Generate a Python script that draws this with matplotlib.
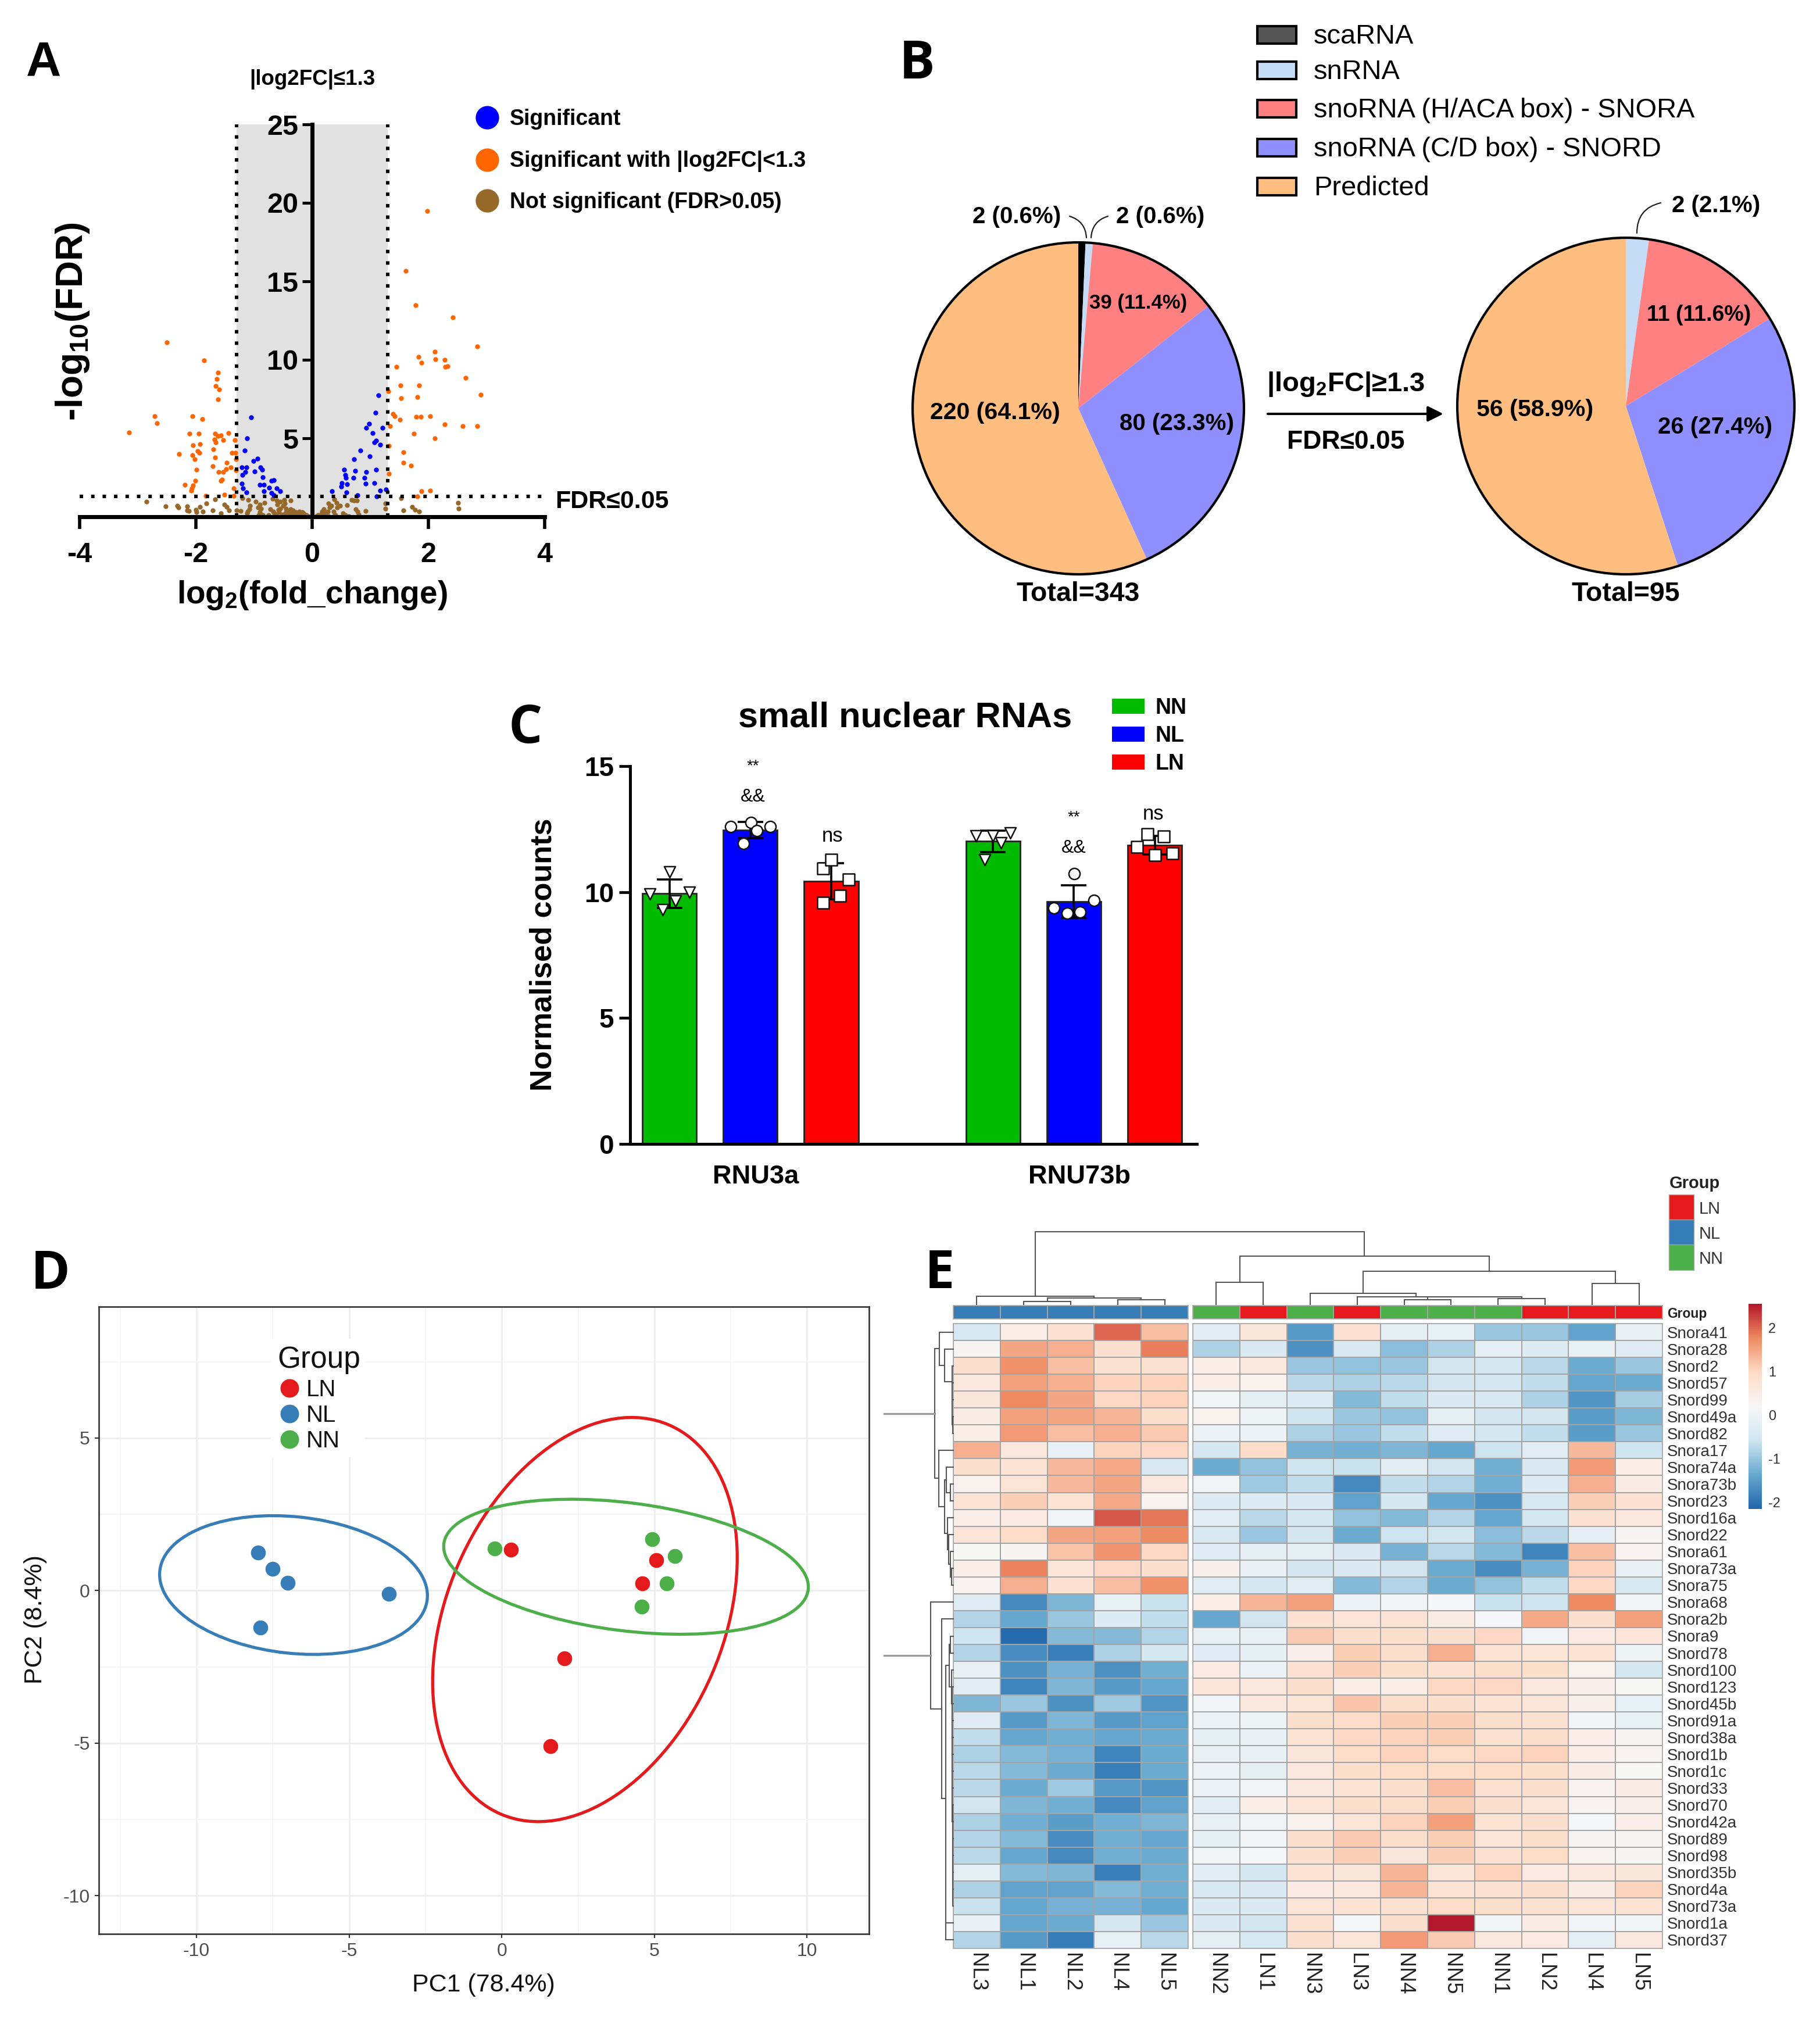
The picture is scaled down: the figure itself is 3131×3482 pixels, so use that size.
import numpy as np
import matplotlib
matplotlib.use("Agg")
import matplotlib.pyplot as plt
from matplotlib.patches import Rectangle, Ellipse, Circle
from matplotlib.colors import LinearSegmentedColormap, ListedColormap, Normalize
from matplotlib.cm import ScalarMappable

plt.rcParams['font.family'] = ['Liberation Sans', 'DejaVu Sans']
plt.rcParams['mathtext.default'] = 'regular'
plt.rcParams['axes.unicode_minus'] = False

W, H = 3131, 3482

# ---------- A: volcano (log2FC, -log10 FDR)
orange_x = [-1.86,-1.62,-1.64,-1.66,-1.60,-1.62,-2.06,-1.89,-2.11,-1.95,-1.67,-1.44,-1.57,-1.62,-1.68,-1.53,-1.33,-1.66,-1.93,-2.05,-1.70,-1.97,-1.94,-2.06,-2.29,-1.38,-1.32,-2.02,-1.67,-1.31,-1.47,-1.71,-1.40,-1.99,-1.48,-1.31,-1.61,-1.53,-1.55,-1.57,-2.01,-2.19,-2.05,-2.07,-1.35,-2.08,-1.83,-1.51,-1.35,-3.15,-2.71,-2.67,-2.50,
            1.98,1.61,1.78,2.42,2.84,2.11,1.83,1.88,2.12,2.28,2.29,2.33,1.45,1.52,1.84,2.64,1.31,1.53,1.81,2.90,1.39,1.42,1.51,1.79,1.87,2.03,2.28,2.59,2.84,1.34,1.75,2.11,1.32,1.57,1.57,1.70,1.32,1.88,2.03,1.81]
orange_y = [9.95,9.19,8.78,8.35,8.10,7.50,6.42,6.22,5.31,5.31,5.31,5.33,5.19,5.14,4.94,4.88,4.90,4.73,4.64,4.57,4.30,4.17,4.07,3.93,4.01,4.07,4.07,3.68,3.78,3.68,3.46,3.21,3.16,3.00,3.04,2.96,2.85,2.85,2.38,2.28,2.30,2.05,2.01,1.80,1.80,1.68,1.33,1.40,1.33,5.37,6.40,5.96,11.10,
            19.50,15.67,13.50,12.70,10.85,10.53,10.17,9.83,10.05,10.00,9.54,9.60,9.57,8.38,8.38,8.85,7.99,7.54,7.64,7.77,6.57,6.42,6.19,6.38,6.38,6.42,5.88,5.77,5.77,5.78,5.30,5.01,4.52,4.11,3.46,3.27,2.75,1.62,1.65,1.30]
blue_x = [-1.05,-1.12,-1.16,-.94,-1.01,-1.21,-1.13,-.89,-.86,-.99,-1.15,-1.20,-.85,-.70,-.66,-1.21,-.90,-.83,-.61,-.74,-1.19,-.83,-1.13,-.55,-.70,-.66,
          1.14,1.09,.98,.93,1.21,1.04,1.10,1.07,1.17,.83,.99,.72,.55,.74,1.10,.93,.57,.58,.71,.90,1.07,.51,.60,.92,.50,1.17,1.27,.34,.59,.78,1.11]
blue_y = [6.33,5.01,4.22,3.70,3.56,3.16,3.16,3.16,3.00,2.89,2.84,2.67,2.52,2.30,2.32,2.10,2.04,2.04,1.83,1.85,1.83,1.63,1.56,1.63,1.53,1.38,
          7.75,6.63,5.94,5.68,5.68,5.33,4.85,4.73,4.60,4.23,3.86,3.65,2.99,2.94,2.99,2.84,2.67,2.47,2.49,2.47,2.14,2.14,2.07,2.10,1.93,1.68,1.75,1.64,1.54,1.36,1.28]
brown_x = [-2.32,-2.15,-2.15,-2.12,-1.99,-1.93,-1.88,-1.82,-1.67,-1.71,-1.57,-1.51,-1.47,-1.43,-1.30,-1.23,-1.20,-1.10,-1.07,-1.11,-.97,-.90,-.82,-.88,-.92,-.85,-.68,-.61,-.55,-.48,-.50,-.37,-.45,-.72,-.65,-.57,-.40,-.33,-.25,-.17,-.13,-.30,-.50,-.43,-.07,-.20,
           0,.07,.13,.20,.18,.28,.38,.33,.42,.48,.27,.37,.37,.57,.63,.60,.68,.77,.75,.80,.92,1.26,1.26,1.53,1.57,1.72,1.77,1.84,2.51,2.52,-2.85,-2.52,-2.30,-2.00,
           -.67,-.62,-.55,-.52,-.47,-.45,-.40,-.37,-.32,-.27,-.22,-.15,-.10,-.60,-1.08,-1.12,-.90,-.93,.30,.23,.28,.10,.17,.43,.40,.53,.78,.72,-.75,-.58,-.35,-.28]
brown_y = [.69,.65,.40,.37,.28,.62,.35,.84,1.11,.41,.22,.78,.62,.41,.41,.37,1.19,1.09,.72,.35,.96,.78,.90,.53,.12,.12,1.15,1.02,.96,1.09,.72,1.02,.53,.49,.22,.28,.35,.41,.22,.28,.12,.16,.16,.22,.04,.10,
           0,.04,.10,.47,.22,.84,1.11,.72,.90,.72,.35,.35,.04,.10,.04,.74,1.09,1.02,.47,.16,.37,.84,.53,1.19,.41,.62,.44,.35,.88,.53,.95,.65,.58,.45,
           .35,.10,.53,.10,.84,.28,.10,.47,.35,.10,.35,.22,.10,.78,.47,.22,.28,.59,.59,.22,.04,.10,.35,.59,.10,.22,.35,1.02,.12,.45,.18,.30]
legend_A = ['Significant', 'Significant with |log2FC|<1.3', 'Not significant (FDR>0.05)']

# ---------- B: pies
pie_names = ['scaRNA', 'snRNA', 'snoRNA (H/ACA box) - SNORA', 'snoRNA (C/D box) - SNORD', 'Predicted']
pie_cols = ['#000000', '#c6dcf6', '#ff8080', '#8f8fff', '#ffbd80']
pie_leg_cols = ['#555555', '#c6dcf6', '#ff8080', '#8f8fff', '#ffbd80']
pie1_share = [0.7, 0.7, 13.0, 28.8, 56.8]   # slice shares as drawn
pie2_share = [0.0, 2.2, 14.1, 28.7, 55.0]

# ---------- C: bars
genes = ['RNU3a', 'RNU73b']
bar_groups = ['NN', 'NL', 'LN']
bar_cols = ['#00bb00', '#0000ff', '#ff0000']
bar_pos = [0, 1, 2, 4, 5, 6]
nn_a = [9.93, 10.8, 9.3, 9.65, 10.0]
nl_a = [12.6, 12.77, 11.93, 12.45, 12.6]
ln_a = [10.95, 11.29, 10.49, 9.86, 9.58]
nn_b = [12.24, 12.24, 12.34, 11.96, 11.29]
nl_b = [9.37, 10.73, 9.16, 9.2, 9.68]
ln_b = [11.79, 12.31, 12.2, 11.47, 11.55]
off_a = [-.245, .006, -.084, .078, .245]
off_ln_a = [-.1, 0, .215, .107, -.1]
off_nn_b = [-.21, 0, .21, .10, -.10]
off_ln_b = [-.22, -.09, .11, 0, .215]

# ---------- D: PCA
pc_groups = ['LN', 'NL', 'NN']
pc_cols = ['#e41a1c', '#377eb8', '#4daf4a']
ln_pc1 = [.30, 5.07, 4.60, 2.05, 1.60]
ln_pc2 = [1.34, 1.00, .23, -2.22, -5.10]
nl_pc1 = [-7.98, -7.51, -7.02, -3.69, -7.91]
nl_pc2 = [1.25, .71, .26, -.11, -1.21]
nn_pc1 = [-.23, 4.93, 5.67, 5.40, 4.58]
nn_pc2 = [1.38, 1.68, 1.12, .24, -.52]

# ---------- E: heatmap
left_cols = ['NL3', 'NL1', 'NL2', 'NL4', 'NL5']
right_cols = ['NN2', 'LN1', 'NN3', 'LN3', 'NN4', 'NN5', 'NN1', 'LN2', 'LN4', 'LN5']
row_names = ['Snora41','Snora28','Snord2','Snord57','Snord99','Snord49a','Snord82','Snora17','Snora74a','Snora73b','Snord23','Snord16a','Snord22','Snora61','Snora73a','Snora75','Snora68','Snora2b','Snora9','Snord78','Snord100','Snord123','Snord45b','Snord91a','Snord38a','Snord1b','Snord1c','Snord33','Snord70','Snord42a','Snord89','Snord98','Snord35b','Snord4a','Snord73a','Snord1a','Snord37']
heat = np.array([
[-.45,.45,.8,2.0,1.25,-.25,.65,-1.55,.8,-.2,-.15,-1.0,-1.0,-1.45,-.1],
[.25,1.5,1.4,.85,1.85,-.85,-.4,-1.65,-.45,-1.1,-.85,-.2,-.35,-.1,-.3],
[.85,1.7,1.25,.8,.8,.45,.6,-1.0,-1.05,-1.0,-.55,-.5,-.75,-1.35,-1.0],
[.6,1.55,1.4,1.05,1.05,.45,.35,-.75,-.85,-.75,-.55,-.5,-.7,-1.4,-1.35],
[.65,1.75,1.5,1.0,1.05,.1,-.2,-.35,-1.15,-.7,-.4,-.45,-.85,-1.6,-.9],
[.5,1.55,1.5,1.35,.9,.35,0,-.6,-1.0,-1.05,-.2,-.55,-.55,-1.5,-1.2],
[.45,1.6,1.25,1.4,1.15,-.05,-.05,-.85,-1.0,-.7,-.3,-.5,-.7,-1.5,-1.0],
[1.4,.6,-.15,1.05,1.0,-.5,.95,-1.25,-1.3,-1.2,-1.4,-.6,-.25,1.3,-.6],
[.85,.75,1.3,1.45,-.45,-1.35,-1.05,-.6,-.65,-.25,-.55,-1.3,-.4,1.6,.45],
[.35,.7,1.3,1.5,.6,.05,-.95,-.7,-1.75,-.7,-.8,-1.3,-.35,1.4,.5],
[.75,1.1,.75,1.45,.3,-.35,-.35,-.4,-1.45,-.5,-1.4,-1.65,-.45,1.1,.8],
[.45,.55,.05,2.1,1.9,-.25,-.75,-.5,-1.05,-1.15,-.8,-1.4,-.5,.8,.6],
[.7,.95,1.5,1.55,1.75,-.45,-1.0,-.55,-1.35,-.6,-.55,-1.1,-.75,-.2,.25],
[.2,.25,1.2,1.65,1.0,-.3,-.2,-.2,-.4,-1.25,-.75,-1.15,-1.8,1.25,.3],
[.45,1.8,.7,1.0,.85,.4,-.1,-.55,-.4,-.55,-1.35,-1.7,-1.25,1.05,-.1],
[.3,1.4,.8,1.25,1.7,-.25,-.5,-.25,-1.15,-.8,-1.35,-1.05,-.7,1.0,-.45],
[-.3,-1.75,-1.2,-.15,-.65,.45,1.35,1.55,-.05,.05,.15,-.65,-.6,1.75,.1],
[-.8,-1.4,-1.0,-.35,-.7,-1.4,-.55,.8,.7,.75,.5,.15,1.45,.85,1.55],
[-.6,-2.1,-1.15,-1.15,-.8,-.1,-.1,1.15,.9,.9,.85,1.0,.05,.55,.7],
[-.8,-1.7,-1.85,-.85,-.5,-.3,-.2,.4,1.1,.9,1.4,.75,.7,.75,0],
[-.1,-1.65,-1.25,-1.65,-1.3,.55,-.05,.8,1.1,.9,.8,.9,.9,.35,-.5],
[-.25,-1.8,-1.2,-1.55,-1.4,.7,.6,.85,.45,.45,1.0,1.0,.6,.4,.2],
[-1.2,-1.0,-1.65,-.95,-1.6,.05,.6,.7,1.2,.9,.85,.75,.7,.4,-.15],
[-.3,-1.55,-1.2,-1.55,-1.45,-.05,0,.9,.95,1.1,1.1,.9,.8,.1,-.1],
[-.7,-1.4,-1.3,-1.4,-1.35,-.2,-.1,.75,1.0,1.05,1.1,.8,.9,.45,.25],
[-.85,-1.15,-1.25,-1.8,-1.35,-.1,-.1,.65,.95,1.05,.95,1.0,1.05,.45,.3],
[-.75,-1.15,-1.35,-1.85,-1.35,-.05,-.2,.6,.9,.95,.95,.95,.9,.5,.2],
[-.75,-1.35,-.95,-1.55,-1.6,-.05,.05,.6,.75,.85,1.25,.8,.85,.3,.5],
[-.55,-1.2,-1.3,-1.75,-1.45,-.25,.45,.7,.9,.9,1.1,.85,.7,.3,.4],
[-.85,-1.3,-1.5,-1.3,-1.2,-.1,.05,.35,.7,1.05,1.55,.75,.85,.15,.45],
[-.8,-1.15,-1.7,-1.3,-1.4,-.2,.1,.85,1.15,.9,1.1,.7,.9,.25,.25],
[-.75,-1.4,-1.75,-1.3,-1.35,.1,.15,.85,1.1,.65,1.1,.8,.95,.3,.25],
[-.2,-1.15,-1.2,-1.85,-1.3,-.25,-.5,.75,.65,1.35,.7,1.05,.55,.6,.65],
[-.85,-1.45,-1.45,-1.15,-1.3,-.45,-.4,.55,.6,1.35,.75,.8,.85,.5,1.05],
[-.65,-1.4,-1.25,-1.25,-1.4,-.4,-.4,.7,.75,.8,.95,.9,.8,.7,.75],
[-.1,-1.4,-1.35,-.5,-1.0,-.4,-.55,.8,.15,.85,2.55,.1,.5,.1,.1],
[-.8,-1.55,-1.9,-.15,-.75,-.2,-.45,.85,.7,1.6,1.15,.6,.55,-.2,.6],
])
rdbu7 = ['#2166AC', '#67A9CF', '#D1E5F0', '#F7F7F7', '#FDDBC7', '#EF8A62', '#B2182B']
heat_min, heat_max = -2.16, 2.55

# dendrograms as nested (child, child, merge height); leaves are indices
col_tree_left = (0, ((1, 2, 2239.3), (3, 4, 2236), 2233.3), 2230)
col_tree_right = ((0, 1, 2206),
                  ((2, (3, ((4, 5, 2236), (6, 7, 2233.7), 2231), 2230.6), 2224.5), (8, 9, 2208), 2187),
                  2161)
chain = (33, 34, 1639)
for leaf, h in zip(range(32, 19, -1), [1639, 1638.8, 1638.6, 1638.8, 1638.6, 1638.4, 1638.2, 1638, 1638.2, 1638, 1637.8, 1637.6, 1637.4]):
    chain = (leaf, chain, h)
row_tree_top = ((0, (1, (2, (3, (4, (5, 6, 1638.5), 1638.3), 1638), 1637.5), 1625), 1616),
                (7, ((8, (9, 10, 1635), 1628), (11, (12, (13, (14, 15, 1637), 1635), 1632), 1630), 1625), 1615),
                1608)
row_tree_bottom = (16, (17, (((18, 19, 1635), chain, 1633), (35, 36, 1627), 1627), 1620), 1601)


def ax_px(x0, y0, x1, y1, **kw):
    return fig.add_axes([x0 / W, 1 - y1 / H, (x1 - x0) / W, (y1 - y0) / H], **kw)


fig = plt.figure(figsize=(W / 100, H / 100), dpi=100, facecolor='white')
ov = fig.add_axes([0, 0, 1, 1], zorder=20)
ov.set_xlim(0, W); ov.set_ylim(H, 0); ov.axis('off')


def T(x, y, s, size, weight='normal', ha='center', va='center', color='black', rot=0, **kw):
    if rot == 0:
        y = y + 3
    return ov.text(x, y, s, fontsize=size, fontweight=weight, ha=ha, va=va, color=color,
                   rotation=rot, rotation_mode='anchor' if rot == 270 else 'default', **kw)


# ================= Panel A
a = ax_px(137, 214, 937, 889)
a.set_xlim(-4, 4); a.set_ylim(0, 25)
a.patch.set_alpha(0)
a.add_patch(Rectangle((-1.3, 0), 2.6, 25, color='#e1e1e1', lw=0, zorder=0))
msize = 36
a.scatter(brown_x, brown_y, s=msize, c='#96692a', lw=0, zorder=2, clip_on=False)
a.scatter(orange_x, orange_y, s=msize, c='#ff6600', lw=0, zorder=2, clip_on=False)
a.scatter(blue_x, blue_y, s=msize, c='#0000ff', lw=0, zorder=2, clip_on=False)
dots = dict(color='black', lw=4.3, ls=(0, (1, 2.3)), zorder=3, clip_on=False, dash_capstyle='butt')
a.plot([-4, 4], [1.3, 1.3], **dots)
a.plot([-1.3, -1.3], [0, 25], **dots)
a.plot([1.3, 1.3], [0, 25], **dots)
for s in ['top', 'right']:
    a.spines[s].set_visible(False)
a.spines['left'].set_position(('data', 0))
a.spines['left'].set_linewidth(5); a.spines['bottom'].set_linewidth(5)
a.spines['left'].set_zorder(4); a.spines['bottom'].set_zorder(4)
a.set_xticks([-4, -2, 0, 2, 4]); a.set_yticks([5, 10, 15, 20, 25])
a.tick_params(axis='x', length=15, width=4, pad=16, labelsize=35)
a.tick_params(axis='y', length=12, width=3.6, pad=5, labelsize=35)
for l in a.get_xticklabels() + a.get_yticklabels():
    l.set_fontweight('bold')
a.set_xticklabels(['-4', '-2', '0', '2', '4'], fontweight='bold')
T(537, 1021, 'log$_2$(fold_change)', 39.6, 'bold')
T(125, 553, '-log$_{10}$(FDR)', 46, 'bold', rot=90)
T(537, 133, '|log2FC|≤1.3', 26.5, 'bold')
T(955, 860, 'FDR≤0.05', 31, 'bold', ha='left')
for y, c, s in zip([202, 275, 345], ['#0000ff', '#ff6600', '#96692a'], legend_A):
    ov.scatter([838], [y], s=840, c=c, lw=0)
    T(877, y, s, 27, 'bold', ha='left')

# ================= Panel B
for box, share in [((1570, 417, 2140, 988), pie1_share), ((2507, 409, 3087, 988), pie2_share)]:
    p = ax_px(*box)
    p.pie(share, colors=pie_cols, startangle=90, counterclock=False, radius=1,
          wedgeprops=dict(lw=0))
    p.set_xlim(-1, 1); p.set_ylim(-1, 1); p.set_aspect('auto')
    p.add_patch(Circle((0, 0), 1, fill=False, ec='black', lw=3, clip_on=False, zorder=5))
for y, c, s in zip([60, 121, 187, 254, 321], pie_leg_cols, pie_names):
    ov.add_patch(Rectangle((2163, y - 15), 67, 30, fc=c, ec='black', lw=3))
    T(2260, y, s, 33.8, ha='left')
for (x, y, s, fs) in [(1749, 370, '2 (0.6%)', 29), (1996, 370, '2 (0.6%)', 29), (1958, 518, '39 (11.4%)', 25),
                      (1712, 707, '220 (64.1%)', 29.6), (2024, 726, '80 (23.3%)', 29),
                      (2952, 351, '2 (2.1%)', 29), (2923, 539, '11 (11.6%)', 27),
                      (2641, 702, '56 (58.9%)', 29.6), (2951, 732, '26 (27.4%)', 29),
                      (1855, 1019, 'Total=343', 33.5), (2797, 1019, 'Total=95', 33.5),
                      (2315, 658, '|log$_2$FC|≥1.3', 34), (2315, 758, 'FDR≤0.05', 32)]:
    T(x, y, s, fs, 'bold')
ov.annotate('', xy=(2483, 712), xytext=(2181, 712),
            arrowprops=dict(arrowstyle='-|>,head_width=0.4,head_length=0.8', lw=3, color='black', shrinkA=0, shrinkB=0, mutation_scale=20))
for p0, p1, rad in [((1840, 372), (1869, 409), -0.35), ((1906, 372), (1877, 409), 0.35), ((2857, 349), (2816, 401), 0.4)]:
    ov.annotate('', xy=p1, xytext=p0,
                arrowprops=dict(arrowstyle='-', lw=1.6, color='#222222', shrinkA=0, shrinkB=0,
                                connectionstyle=f'arc3,rad={rad}'))

# ================= Panel C
c = ax_px(1084, 1318, 2059, 1968)
c.set_xlim(-0.486, 6.52); c.set_ylim(0, 15)
c.patch.set_alpha(0)
samples = [nn_a, nl_a, ln_a, nn_b, nl_b, ln_b]
offsets = [off_a, off_a, off_ln_a, off_nn_b, off_a, off_ln_b]
markers = ['v', 'o', 's', 'v', 'o', 's']
for i, (xp, vals, off, m) in enumerate(zip(bar_pos, samples, offsets, markers)):
    col = bar_cols[i % 3]
    mean, sd = np.mean(vals), np.std(vals, ddof=1)
    c.bar(xp, mean, width=0.67, color=col, edgecolor='#222222', lw=2, zorder=2)
    c.errorbar(xp, mean, yerr=sd, color='black', lw=2.6, capsize=16, capthick=2.6, zorder=3)
    c.scatter(xp + np.array(off), vals, marker=m, s=190, fc='white', ec='#111111', lw=1.8, zorder=4, clip_on=False)
for s in ['top', 'right']:
    c.spines[s].set_visible(False)
c.spines['left'].set_linewidth(3.6); c.spines['bottom'].set_linewidth(3.6)
c.spines['bottom'].set_zorder(5)
c.set_xticks([])
c.set_yticks([0, 5, 10, 15])
c.tick_params(axis='y', length=14, width=3.4, pad=6, labelsize=33)
for l in c.get_yticklabels():
    l.set_fontweight('bold')
T(1557, 1232, 'small nuclear RNAs', 44, 'bold')
T(935, 1642, 'Normalised counts', 37.6, 'bold', rot=90)
T(1300, 2021, genes[0], 32.6, 'bold')
T(1857, 2021, genes[1], 32.6, 'bold')
for y, col, s in zip([1215, 1263, 1311], bar_cols, bar_groups):
    ov.add_patch(Rectangle((1913, y - 13), 56, 26, fc=col, ec='none'))
    T(1988, y, s, 27, 'bold', ha='left')
for x, y, s, fs, w in [(1295, 1315, '**', 20, 'normal'), (1295, 1368, '&&', 23, 'normal'), (1432, 1436, 'ns', 25, 'normal'),
                       (1847, 1403, '**', 20, 'normal'), (1847, 1456, '&&', 23, 'normal'), (1984, 1397, 'ns', 25, 'normal')]:
    T(x, y, s, fs, w)

# ================= Panel D
d = ax_px(170, 2248, 1495, 3327)
d.set_xlim(-13.2, 12.03); d.set_ylim(-11.25, 9.3)
d.set_axisbelow(True)
d.set_xticks([-10, -5, 0, 5, 10]); d.set_yticks([-10, -5, 0, 5])
d.set_xticks([-12.5, -7.5, -2.5, 2.5, 7.5], minor=True)
d.set_yticks([-7.5, -2.5, 2.5, 7.5], minor=True)
d.grid(which='major', color='#eeeeee', lw=2)
d.grid(which='minor', color='#f3f3f3', lw=1.1)
d.tick_params(which='minor', length=0)
d.tick_params(which='major', length=5, width=1.6, color='#333333', labelcolor='#4d4d4d', labelsize=23, pad=6)
for s in d.spines.values():
    s.set_linewidth(1.9); s.set_color('#333333')
for px, py, col in zip([ln_pc1, nl_pc1, nn_pc1], [ln_pc2, nl_pc2, nn_pc2], pc_cols):
    cov = np.cov(px, py)
    vals, vecs = np.linalg.eigh(cov)
    k = np.sqrt(5.991)
    angle = np.degrees(np.arctan2(vecs[1, 1], vecs[0, 1]))
    d.add_patch(Ellipse((np.mean(px), np.mean(py)), 2 * k * np.sqrt(vals[1]), 2 * k * np.sqrt(vals[0]),
                        angle=angle, fill=False, ec=col, lw=3.8, zorder=3))
    d.scatter(px, py, s=340, c=col, lw=0, zorder=4)
T(832, 3412, 'PC1 (78.4%)', 31, color='#111111')
T(61, 2786, 'PC2 (8.4%)', 31, color='#111111', rot=90)
ov.add_patch(Rectangle((465, 2303), 163, 204, fc='white', ec='none'))
T(477, 2337, 'Group', 37, ha='left', color='#111111')
for y, col, s in zip([2388, 2432, 2476], pc_cols, pc_groups):
    ov.scatter([498], [y], s=530, c=col, lw=0)
    T(527, y, s, 29, ha='left', color='#111111')

# ================= Panel E
cmap = LinearSegmentedColormap.from_list('rdbu7', rdbu7, N=256)
norm = Normalize(heat_min, heat_max)
cell_edge = '#a4a4a4'
CW, RH = 80.8, 1075 / 37
L0, R0, TOP = 1640, 2052, 2277
h1 = ax_px(L0, TOP, L0 + 5 * CW, TOP + 37 * RH)
h2 = ax_px(R0, TOP, R0 + 10 * CW, TOP + 37 * RH)
h1.pcolormesh(heat[:, :5], cmap=cmap, norm=norm, edgecolors=cell_edge, linewidth=1.1)
h2.pcolormesh(heat[:, 5:], cmap=cmap, norm=norm, edgecolors=cell_edge, linewidth=1.1)
group_cmap = ListedColormap(pc_cols)
g1 = ax_px(L0, 2246, L0 + 5 * CW, 2269)
g2 = ax_px(R0, 2246, R0 + 10 * CW, 2269)
g1.pcolormesh(np.array([[1] * 5]), cmap=group_cmap, vmin=0, vmax=2, edgecolors=cell_edge, linewidth=1.1)
g2.pcolormesh(np.array([[pc_groups.index(n[:2]) for n in right_cols]]), cmap=group_cmap, vmin=0, vmax=2, edgecolors=cell_edge, linewidth=1.1)
for ax in (h1, h2):
    ax.invert_yaxis()
for ax in (h1, h2, g1, g2):
    ax.set_xticks([]); ax.set_yticks([])
    for s in ax.spines.values():
        s.set_color(cell_edge); s.set_linewidth(1.1)
for i, n in enumerate(row_names):
    T(2868, TOP + (i + .5) * RH, n, 20, ha='left', color='#333333')
for i, n in enumerate(left_cols):
    T(L0 + (i + .5) * CW, 3360, n, 26, rot=270, ha='left', va='center', color='#222222')
for i, n in enumerate(right_cols):
    T(R0 + (i + .5) * CW, 3360, n, 26, rot=270, ha='left', va='center', color='#222222')
T(2868, 2258, 'Group', 16.5, 'bold', ha='left', color='#222222')
T(2872, 2033, 'Group', 21, 'bold', ha='left', color='#222222')
for y, col, s in zip([2077, 2120, 2163], pc_cols, pc_groups):
    ov.add_patch(Rectangle((2871, y - 21.7), 43, 43.4, fc=col, ec=cell_edge, lw=1))
    T(2923, y, s, 21, ha='left', color='#333333')
cax = ax_px(3008, 2243, 3031, 2596)
cb = fig.colorbar(ScalarMappable(norm=norm, cmap=cmap), cax=cax)
cb.outline.set_visible(False)
cb.set_ticks([-2, -1, 0, 1, 2])
cb.set_ticklabels(['-2', '-1', '0', '1', '2'])
cb.ax.tick_params(length=0, pad=8, labelsize=17, labelcolor='#333333')


def draw_col(node, x0, base):
    if not isinstance(node, tuple):
        return x0 + (node + .5) * CW, base
    xa, ya = draw_col(node[0], x0, base)
    xb, yb = draw_col(node[1], x0, base)
    h = node[2]
    ov.plot([xa, xa, xb, xb], [ya, h, h, yb], color='#555555', lw=1.5, solid_joinstyle='miter')
    return (xa + xb) / 2, h


def draw_row(node, base):
    if not isinstance(node, tuple):
        return TOP + (node + .5) * RH, base
    ya, xa = draw_row(node[0], base)
    yb, xb = draw_row(node[1], base)
    h = node[2]
    ov.plot([xa, h, h, xb], [ya, ya, yb, yb], color='#555555', lw=1.5, solid_joinstyle='miter')
    return (ya + yb) / 2, h


xl, yl = draw_col(col_tree_left, L0, 2244)
xr, yr = draw_col(col_tree_right, R0, 2244)
ov.plot([xl, xl, xr, xr], [yl, 2119, 2119, yr], color='#555555', lw=1.5)
for tree in (row_tree_top, row_tree_bottom):
    y, x = draw_row(tree, 1640)
    ov.plot([1521, x], [y, y], color='#999999', lw=2.4)

# panel letters
T(75, 106, 'A', 60, 'bold')
for x, y, s in [(1578, 111, 'B'), (904, 1254, 'C'), (87, 2193, 'D'), (1616, 2192, 'E')]:
    ov.text(x, y, s, fontsize=66, fontweight='bold', ha='center', va='center', family='Open Sans')
ov.set_xlim(0, W); ov.set_ylim(H, 0)
fig.savefig('out.png', dpi=100, facecolor='white')
